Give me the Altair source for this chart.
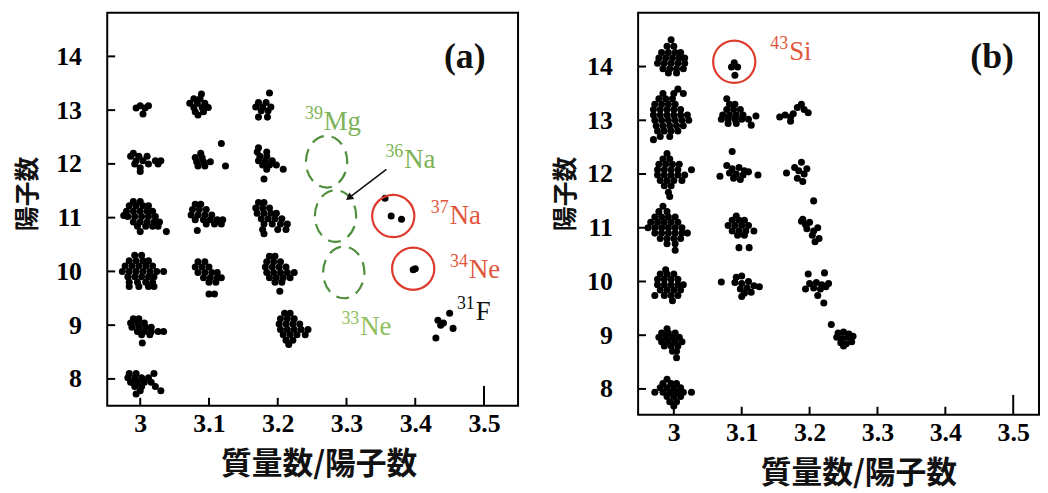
import altair as alt
import pandas as pd

# ---------------- data: clusters as (Z, [mass/charge values]) rows ----------------
# Panel (a)
PA_300_13 = [(13.08, [3.000, 3.012]), (13.04, [2.994, 3.007]), (12.93, [3.004])]
PA_308_13 = [(13.30, [3.089]), (13.21, [3.078, 3.087]), (13.13, [3.072, 3.083, 3.094]),
             (13.05, [3.078, 3.090, 3.099]), (12.97, [3.080, 3.092]), (12.91, [3.084])]
PA_317_13 = [(13.32, [3.188]), (13.14, [3.172, 3.183]), (13.06, [3.168, 3.178, 3.190]),
             (12.99, [3.176, 3.186]), (12.87, [3.172, 3.185])]
PA_300_12 = [(12.20, [2.990]), (12.14, [2.986, 2.998, 3.010]), (12.06, [2.994, 3.004, 3.022, 3.030]),
             (12.00, [2.992, 3.012, 3.026]), (11.93, [3.000]), (11.86, [3.000])]
PA_309_12 = [(12.38, [3.118]), (12.20, [3.088]), (12.12, [3.080, 3.090]),
             (12.04, [3.082, 3.092, 3.102]), (11.96, [3.084, 3.094, 3.124])]
PA_318_12 = [(12.30, [3.172]), (12.22, [3.170, 3.184]), (12.14, [3.174, 3.184]),
             (12.06, [3.172, 3.182, 3.192]), (11.98, [3.178, 3.188, 3.198]),
             (11.90, [3.184, 3.208]), (11.72, [3.180])]
PA_300_11 = [(11.30, [2.990, 3.000]), (11.22, [2.984, 2.994, 3.004, 3.012]),
             (11.12, [2.980, 2.990, 3.000, 3.010, 3.018]), (11.04, [2.976]),
             (11.02, [2.982, 2.992, 3.002, 3.012, 3.022]),
             (10.92, [2.990, 3.000, 3.010, 3.020, 3.028]), (10.84, [2.996, 3.008, 3.018, 3.026]),
             (10.74, [3.000, 3.038])]
PA_309_11 = [(11.25, [3.080, 3.088]), (11.15, [3.076, 3.086, 3.096]),
             (11.05, [3.074, 3.084, 3.094, 3.104]), (10.96, [3.080, 3.092, 3.102, 3.112, 3.120]),
             (10.88, [3.096, 3.108, 3.118]), (10.76, [3.083])]
PA_318_11 = [(11.28, [3.172, 3.180]), (11.18, [3.168, 3.178, 3.188]),
             (11.08, [3.170, 3.180, 3.190, 3.198]), (10.98, [3.176, 3.186, 3.196, 3.206]),
             (10.88, [3.180, 3.192, 3.204, 3.214]), (10.78, [3.178, 3.200, 3.212]), (10.70, [3.180])]
PA_300_10 = [(10.30, [2.992, 3.002]), (10.20, [2.984, 2.994, 3.004, 3.012]),
             (10.10, [2.978, 2.988, 2.998, 3.008, 3.018]),
             (10.00, [2.974, 2.984, 2.994, 3.004, 3.014, 3.024, 3.034]),
             (9.90, [2.982, 2.992, 3.002, 3.012, 3.020]), (9.80, [2.984, 2.996, 3.008, 3.018]),
             (9.72, [2.984, 2.998, 3.012, 3.020])]
PA_310_10 = [(10.18, [3.084, 3.094]), (10.08, [3.080, 3.090, 3.100]),
             (9.98, [3.084, 3.094, 3.104, 3.112]), (9.88, [3.092, 3.102, 3.112, 3.118]),
             (9.80, [3.100, 3.110]), (9.58, [3.100, 3.108])]
PA_319_10 = [(10.28, [3.188, 3.196]), (10.18, [3.184, 3.194, 3.204]),
             (10.08, [3.182, 3.192, 3.202, 3.212]), (9.98, [3.184, 3.194, 3.204, 3.214, 3.224]),
             (9.88, [3.188, 3.198, 3.208, 3.218]), (9.80, [3.196, 3.206]), (9.63, [3.203])]
PA_300_09 = [(9.12, [2.990, 2.998]), (9.04, [2.986, 2.996, 3.006]),
             (8.96, [2.988, 2.998, 3.008, 3.016]), (8.88, [2.996, 3.006, 3.016, 3.026, 3.034]),
             (8.82, [3.002, 3.014]), (8.67, [3.003])]
PA_321_09 = [(9.22, [3.210, 3.218]), (9.12, [3.204, 3.214, 3.224]),
             (9.02, [3.202, 3.212, 3.222, 3.232]), (8.92, [3.204, 3.214, 3.224, 3.234, 3.244]),
             (8.82, [3.208, 3.218, 3.228, 3.240]), (8.72, [3.212, 3.222]), (8.64, [3.216])]
PA_300_08 = [(8.10, [2.984, 2.994, 3.020]), (8.02, [2.982, 2.992, 3.002, 3.012]),
             (7.94, [2.986, 2.996, 3.006, 3.016]), (7.86, [2.992, 3.002, 3.022]),
             (7.78, [3.000, 3.030]), (7.72, [2.994])]
PA_NA37 = [(11.36, [3.356]), (11.03, [3.365]), (10.97, [3.380])]
PA_NE34 = [(10.03, [3.397]), (10.05, [3.400])]
PA_F31 = [(9.22, [3.450]), (9.09, [3.433]), (9.04, [3.441]), (9.00, [3.437]), (8.94, [3.455]),
          (8.76, [3.430])]

# Panel (b)
PB_300_14 = [(14.50, [2.996]), (14.38, [2.990, 3.000]), (14.26, [2.982, 2.992, 3.002, 3.010]),
             (14.16, [2.978, 2.988, 2.998, 3.008, 3.016]), (14.06, [2.976, 2.986, 2.996, 3.006, 3.016]),
             (13.96, [2.984, 2.994, 3.004, 3.014]), (13.88, [2.992, 3.004])]
PB_300_13 = [(13.58, [3.006]), (13.50, [2.984, 3.000, 3.014]), (13.40, [2.978, 2.988, 2.998]),
             (13.30, [2.972, 2.982, 2.992, 3.002]), (13.20, [2.970, 2.980, 2.990, 3.000, 3.010]),
             (13.10, [2.970, 2.980, 2.990, 3.000, 3.010, 3.020]),
             (13.00, [2.972, 2.982, 2.992, 3.002, 3.012, 3.022]),
             (12.90, [2.974, 2.984, 2.994, 3.004, 3.014]), (12.80, [2.976, 2.986, 2.996, 3.006]),
             (12.70, [2.980, 2.994]), (12.64, [2.970])]
PB_300_12 = [(12.38, [2.990]), (12.28, [2.984, 2.994]), (12.18, [2.978, 2.988, 2.998, 3.008]),
             (12.08, [2.976, 2.986, 2.996, 3.006, 3.026]), (11.98, [2.976, 2.986, 2.996, 3.006, 3.016]),
             (11.88, [2.980, 2.990, 3.000, 3.012]), (11.78, [2.986, 2.996]), (11.66, [2.992]),
             (11.58, [2.994])]
PB_300_11 = [(11.40, [2.984]), (11.30, [2.978, 2.990]), (11.20, [2.972, 2.982, 2.992, 3.002]),
             (11.10, [2.966, 2.976, 2.986, 2.996, 3.006]),
             (11.00, [2.962, 2.972, 2.982, 2.992, 3.002, 3.012]),
             (10.90, [2.972, 2.982, 2.992, 3.002, 3.012, 3.020]),
             (10.80, [2.980, 2.990, 3.000, 3.010]), (10.70, [2.990, 3.002]), (10.58, [3.002])]
PB_300_10 = [(10.22, [2.988]), (10.14, [2.980, 2.990, 3.000]), (10.04, [2.976, 2.986, 2.996, 3.006]),
             (9.94, [2.976, 2.986, 2.996, 3.006, 3.014]), (9.84, [2.980, 2.990, 3.000, 3.010]),
             (9.74, [2.972, 2.986, 2.996, 3.006]), (9.64, [2.998])]
PB_300_09 = [(9.12, [2.990]), (9.04, [2.982, 2.992, 3.002]), (8.96, [2.978, 2.988, 2.998, 3.008]),
             (8.88, [2.982, 2.992, 3.002, 3.012]), (8.80, [2.986, 2.996, 3.006]),
             (8.70, [2.998, 3.004]), (8.58, [3.004])]
PB_300_08 = [(8.18, [2.990]), (8.10, [2.984, 2.996, 3.004]), (8.02, [2.980, 2.990, 3.000, 3.010]),
             (7.94, [2.972, 2.984, 2.994, 3.004, 3.014, 3.026]), (7.86, [2.990, 3.000, 3.010]),
             (7.76, [2.994, 3.004]), (7.68, [3.000])]
PB_SI43 = [(14.07, [3.089]), (13.99, [3.085, 3.094]), (13.84, [3.090])]
PB_309_13 = [(13.40, [3.078]), (13.30, [3.082, 3.090]), (13.20, [3.078, 3.088, 3.098]),
             (13.10, [3.072, 3.082, 3.092, 3.102]), (13.08, [3.121]),
             (13.02, [3.070, 3.080, 3.090, 3.100, 3.110]), (12.94, [3.080, 3.092]), (12.91, [3.114])]
PB_318_13 = [(13.30, [3.188]), (13.24, [3.182]), (13.20, [3.192]), (13.14, [3.198]),
             (13.12, [3.176]), (13.10, [3.164]), (13.06, [3.156, 3.172]), (12.98, [3.172])]
PB_310_12 = [(12.42, [3.086]), (12.16, [3.078]), (12.12, [3.096]), (12.10, [3.086]),
             (12.06, [3.104]), (12.04, [3.110]), (12.02, [3.082]), (12.00, [3.092]),
             (11.98, [3.102, 3.124]), (11.96, [3.068]), (11.92, [3.088]), (11.90, [3.098])]
PB_319_12 = [(12.22, [3.188]), (12.12, [3.178]), (12.10, [3.196]), (12.06, [3.184]),
             (12.02, [3.166]), (12.00, [3.192]), (11.92, [3.182]), (11.86, [3.190])]
PB_310_11 = [(11.22, [3.092]), (11.14, [3.086, 3.096, 3.104]), (11.04, [3.080, 3.090, 3.100, 3.110]),
             (10.94, [3.086, 3.096, 3.106, 3.118]), (10.86, [3.094, 3.104]), (10.63, [3.096, 3.111])]
PB_320_11 = [(11.50, [3.206]), (11.16, [3.190]), (11.12, [3.188]), (11.10, [3.200]),
             (11.06, [3.194]), (11.00, [3.212]), (10.98, [3.196]), (10.94, [3.206]),
             (10.86, [3.204]), (10.80, [3.214]), (10.74, [3.208])]
PB_310_10 = [(10.10, [3.100]), (10.08, [3.092]), (10.00, [3.110]), (9.99, [3.070]),
             (9.98, [3.090]), (9.96, [3.100]), (9.92, [3.118]), (9.90, [3.126]),
             (9.88, [3.108]), (9.86, [3.098]), (9.80, [3.114]), (9.78, [3.104]), (9.72, [3.100])]
PB_321_10 = [(10.16, [3.222]), (10.14, [3.198]), (9.98, [3.210]), (9.96, [3.200, 3.228]),
             (9.94, [3.218]), (9.90, [3.224]), (9.88, [3.206]), (9.86, [3.194, 3.216]),
             (9.74, [3.212]), (9.60, [3.221])]
PB_325_09 = [(9.20, [3.232]), (9.06, [3.250]), (9.04, [3.242]), (9.02, [3.258]),
             (8.98, [3.264]), (8.96, [3.240, 3.256]), (8.94, [3.248]), (8.88, [3.262]),
             (8.86, [3.246]), (8.84, [3.254]), (8.80, [3.250])]

# tick values
XTICKS = [3.0, 3.1, 3.2, 3.3, 3.4, 3.5]
YTICKS = [8, 9, 10, 11, 12, 13, 14]

# annotation circles: centre (x, Z)
A_GREEN_RINGS_X = [3.271, 3.284, 3.296]
A_GREEN_RINGS_Y = [12.04, 11.03, 9.98]
A_RED_RINGS_X = [3.368, 3.397]
A_RED_RINGS_Y = [11.03, 10.05]
B_RED_RINGS_X = [3.089]
B_RED_RINGS_Y = [14.09]

# nuclide labels
A_LAB_MASS = ["39", "36", "37", "34", "33", "31"]
A_LAB_ELEM = ["Mg", "Na", "Na", "Ne", "Ne", "F"]
A_LAB_X = [3.267, 3.384, 3.450, 3.478, 3.320, 3.488]
A_LAB_Y = [12.63, 11.92, 10.88, 9.87, 8.82, 9.09]
A_LAB_COL = ["#7db356", "#7db356", "#e2553d", "#e2553d", "#8fbf5e", "#111111"]
B_LAB_MASS = ["43"]
B_LAB_ELEM = ["Si"]
B_LAB_X = [3.170]
B_LAB_Y = [14.13]
B_LAB_COL = ["#e2553d"]

# arrow to 36Na ring
ARROW_X = [3.358]
ARROW_Y = [11.90]
ARROW_X2 = [3.305]
ARROW_Y2 = [11.38]

PANEL_TAG = ["(a)", "(b)"]
PANEL_TAG_X = [3.472, 3.469]
PANEL_TAG_Y = [13.98, 14.17]


def expand(*clusters):
    pts = [(x, z) for cl in clusters for z, xs in cl for x in xs]
    return pd.DataFrame(pts, columns=["x", "z"])


ELLIPSE = "M -0.8 0 A 0.8 1 0 1 1 0.8 0 A 0.8 1 0 1 1 -0.8 0 Z"
SERIF = "Liberation Serif"
CJK = "Noto Sans CJK JP"


def panel(points, w, h, xdom, ydom, titlex, ytitlex, rings, labels, tag, arrow=None):
    xs = alt.Scale(domain=xdom, nice=False, zero=False)
    ys = alt.Scale(domain=ydom, nice=False, zero=False)
    xaxis = alt.Axis(values=XTICKS, format="~g", ticks=False, domain=False, grid=False,
                     labelFont=SERIF, labelFontWeight="bold", labelFontSize=26, labelPadding=5,
                     labelColor="black", title="質量数/陽子数", titleFont=CJK, titleFontSize=31,
                     titleFontWeight="bold", titleColor="#111", titlePadding=13, titleX=titlex)
    yaxis = alt.Axis(values=YTICKS, ticks=False, domain=False, grid=False,
                     labelFont=SERIF, labelFontWeight="bold", labelFontSize=26, labelPadding=26,
                     labelColor="black", title="陽子数", titleFont=CJK, titleFontSize=25,
                     titleFontWeight="bold", titleColor="#111", titleX=ytitlex, titleY=182)

    def X(f):
        return alt.X(f, scale=xs, axis=xaxis)

    def Y(f):
        return alt.Y(f, scale=ys, axis=yaxis)

    pts = alt.Chart(points).mark_circle(size=50, color="black", opacity=1).encode(
        x=X("x:Q"), y=Y("z:Q"))

    xt = pd.DataFrame({"t": XTICKS[:-1]})
    xt_long = pd.DataFrame({"t": XTICKS[-1:]})
    yt = pd.DataFrame({"t": YTICKS})
    tick_x = alt.Chart(xt).mark_rule(color="black", strokeWidth=2).encode(
        x=X("t:Q"), y=alt.value(h), y2=alt.value(h - 8))
    tick_x2 = alt.Chart(xt_long).mark_rule(color="black", strokeWidth=2).encode(
        x=X("t:Q"), y=alt.value(h), y2=alt.value(h - 20))
    tick_y = alt.Chart(yt).mark_rule(color="black", strokeWidth=2).encode(
        y=Y("t:Q"), x=alt.value(0), x2=alt.value(8))

    layers = [pts, tick_x, tick_x2, tick_y]
    for rx, ry, kind in rings:
        df = pd.DataFrame({"x": rx, "z": ry})
        if kind == "green":
            m = alt.Chart(df).mark_point(shape=ELLIPSE, size=2704, filled=False, color="#4f8f3c",
                                         strokeWidth=2.2, strokeDash=[13, 8], opacity=1)
        else:
            m = alt.Chart(df).mark_point(shape="circle", size=1810, filled=False, color="#dd3a2c",
                                         strokeWidth=2.2, opacity=1)
        layers.append(m.encode(x=X("x:Q"), y=Y("z:Q")))

    if arrow is not None:
        adf = pd.DataFrame({"x": arrow[0], "z": arrow[1], "x2": arrow[2], "z2": arrow[3]})
        layers.append(alt.Chart(adf).mark_rule(color="#111", strokeWidth=1.6).encode(
            x=X("x:Q"), y=Y("z:Q"), x2="x2:Q", y2="z2:Q"))
        layers.append(alt.Chart(adf).mark_point(shape="triangle", size=70, filled=True,
                                                color="#111", angle=233, opacity=1).encode(
            x=X("x2:Q"), y=Y("z2:Q")))

    ldf = pd.DataFrame({"mass": labels[0], "elem": labels[1], "x": labels[2], "z": labels[3],
                        "col": labels[4]})
    layers.append(alt.Chart(ldf).mark_text(font=SERIF, fontSize=27, align="left",
                                           baseline="alphabetic").encode(
        x=X("x:Q"), y=Y("z:Q"), text="elem:N", color=alt.Color("col:N", scale=None)))
    layers.append(alt.Chart(ldf).mark_text(font=SERIF, fontSize=18, align="right",
                                           baseline="alphabetic", dx=-1, dy=-11).encode(
        x=X("x:Q"), y=Y("z:Q"), text="mass:N", color=alt.Color("col:N", scale=None)))

    tdf = pd.DataFrame({"t": [tag[0]], "x": [tag[1]], "z": [tag[2]]})
    layers.append(alt.Chart(tdf).mark_text(font=SERIF, fontSize=36, fontWeight="bold",
                                           align="center", baseline="middle", color="#111").encode(
        x=X("x:Q"), y=Y("z:Q"), text="t:N"))

    return alt.layer(*layers).properties(width=w, height=h)


pa = panel(
    expand(PA_300_13, PA_308_13, PA_317_13, PA_300_12, PA_309_12, PA_318_12, PA_300_11,
           PA_309_11, PA_318_11, PA_300_10, PA_310_10, PA_319_10, PA_300_09, PA_321_09,
           PA_300_08, PA_NA37, PA_NE34, PA_F31),
    414, 396, [2.952, 3.5495], [7.50, 14.81], 213, -67,
    [(A_GREEN_RINGS_X, A_GREEN_RINGS_Y, "green"), (A_RED_RINGS_X, A_RED_RINGS_Y, "red")],
    (A_LAB_MASS, A_LAB_ELEM, A_LAB_X, A_LAB_Y, A_LAB_COL),
    (PANEL_TAG[0], PANEL_TAG_X[0], PANEL_TAG_Y[0]),
    arrow=(ARROW_X, ARROW_Y, ARROW_X2, ARROW_Y2))

pb = panel(
    expand(PB_300_14, PB_300_13, PB_300_12, PB_300_11, PB_300_10, PB_300_09, PB_300_08,
           PB_SI43, PB_309_13, PB_318_13, PB_310_12, PB_319_12, PB_310_11, PB_320_11,
           PB_310_10, PB_321_10, PB_325_09),
    404, 405, [2.9474, 3.538], [7.52, 15.0], 222, -60,
    [(B_RED_RINGS_X, B_RED_RINGS_Y, "red")],
    (B_LAB_MASS, B_LAB_ELEM, B_LAB_X, B_LAB_Y, B_LAB_COL),
    (PANEL_TAG[1], PANEL_TAG_X[1], PANEL_TAG_Y[1]))

chart = alt.hconcat(pa, pb, spacing=34).properties(
    padding={"left": 7, "top": 2, "right": 0, "bottom": 0},
    background="white",
).configure_view(stroke="black", strokeWidth=2)

chart.save("out.html", embed_options={"renderer": "svg", "actions": False})
